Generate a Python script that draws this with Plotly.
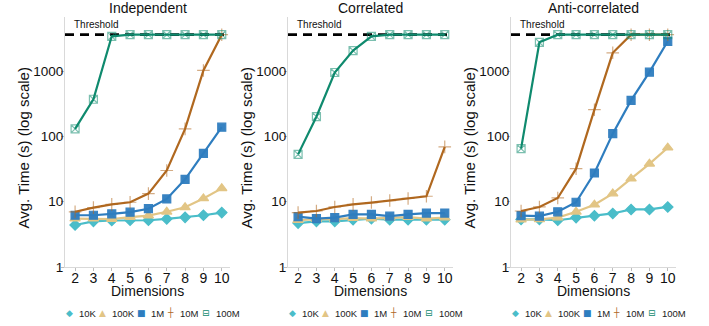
import plotly.graph_objects as go

# ---------------- data ----------------
DIMENSIONS = [2, 3, 4, 5, 6, 7, 8, 9, 10]
PANELS = ["Independent", "Correlated", "Anti-correlated"]
SERIES = ["10K", "100K", "1M", "10M", "100M"]
THRESHOLD = 3600
Y_TICKS = [1, 10, 100, 1000]

independent_10k = [4.4, 5.0, 5.15, 5.2, 5.2, 5.45, 5.75, 6.2, 6.8]
independent_100k = [5.5, 5.5, 5.4, 5.8, 6.1, 7.0, 8.2, 11.2, 16]
independent_1m = [6.2, 6.2, 6.5, 6.9, 7.8, 11, 22, 55, 138]
independent_10m = [7.0, 8.1, 9.1, 9.8, 13.3, 30, 130, 1020, 3600]
independent_100m = [130, 370, 3400, 3600, 3600, 3600, 3600, 3600, 3600]

correlated_10k = [4.7, 5.0, 5.0, 5.3, 5.5, 5.3, 5.3, 5.3, 5.3]
correlated_100k = [5.2, 5.4, 5.4, 5.6, 5.5, 5.7, 5.8, 5.5, 5.7]
correlated_1m = [5.9, 5.5, 5.7, 6.4, 6.4, 6.0, 6.4, 6.7, 6.7]
correlated_10m = [6.8, 7.2, 8.3, 9.1, 9.7, 10.4, 11.2, 12.1, 69]
correlated_100m = [53, 200, 950, 2050, 3400, 3600, 3600, 3600, 3600]

anti_10k = [5.35, 5.35, 5.2, 5.7, 6.1, 6.6, 7.6, 7.6, 8.3]
anti_100k = [5.3, 5.35, 5.7, 7.0, 9.0, 13.3, 22.5, 38, 67]
anti_1m = [6.1, 6.0, 7.0, 9.8, 27.5, 110, 355, 960, 2850]
anti_10m = [7.2, 8.3, 11.4, 32, 256, 1900, 3600, 3600, 3600]
anti_100m = [65, 2750, 3600, 3600, 3600, 3600, 3600, 3600, 3600]

PANEL_DATA = [
    [independent_10k, independent_100k, independent_1m, independent_10m, independent_100m],
    [correlated_10k, correlated_100k, correlated_1m, correlated_10m, correlated_100m],
    [anti_10k, anti_100k, anti_1m, anti_10m, anti_100m],
]

# ---------------- styles ----------------
COLORS = ["#4ABDC9", "#E2C585", "#2E7DBF", "#B0681F", "#0F8A6E"]
SYMBOLS = ["diamond", "triangle-up", "square", "cross-thin-open", "square-x-open"]
MSIZES = [8, 9, 8, 9, 8]
MOPAC = [1.0, 1.0, 0.95, 0.55, 0.55]
GLYPHS = ["◆", "▲", "■", "┼", "⊟"]
FONT = "Liberation Sans, Arial, sans-serif"

W, H = 709, 326
PLOT_LEFT = [65, 288, 511]
PLOT_W = 165
PLOT_TOP, PLOT_BOTTOM = 17, 267

fig = go.Figure()

for p in range(3):
    xa = "x" if p == 0 else f"x{p+1}"
    ya = "y" if p == 0 else f"y{p+1}"
    for s in range(5):
        fig.add_trace(go.Scatter(
            x=DIMENSIONS, y=PANEL_DATA[p][s], xaxis=xa, yaxis=ya,
            mode="lines+markers", name=SERIES[s], showlegend=False,
            line=dict(color=COLORS[s], width=2.2),
            marker=dict(symbol=SYMBOLS[s], size=MSIZES[s], color=COLORS[s],
                        opacity=MOPAC[s], line=dict(color=COLORS[s], width=1.2)),
        ))

layout = dict(
    width=W, height=H, margin=dict(l=0, r=0, t=0, b=0, autoexpand=False),
    paper_bgcolor="white", plot_bgcolor="white",
    font=dict(family=FONT, color="#111111"),
    showlegend=False,
)
ydom = [1 - PLOT_BOTTOM / H, 1 - PLOT_TOP / H]
annotations = []
shapes = []
for p in range(3):
    sfx = "" if p == 0 else str(p + 1)
    x0 = PLOT_LEFT[p] / W
    x1 = (PLOT_LEFT[p] + PLOT_W) / W
    layout["xaxis" + sfx] = dict(
        domain=[x0, x1], anchor="y" + sfx, range=[1.45, 10.45], automargin=False,
        tickmode="array", tickvals=DIMENSIONS, ticktext=[str(d) for d in DIMENSIONS],
        showgrid=False, zeroline=False, showline=True, linecolor="#D9D9D9", linewidth=1,
        ticks="outside", ticklen=3, tickcolor="#BDBDBD", ticklabelstandoff=-5,
        tickfont=dict(size=14, color="#111111"),
    )
    layout["yaxis" + sfx] = dict(
        domain=ydom, anchor="x" + sfx, type="log", range=[0, 3.827], automargin=False,
        tickmode="array", tickvals=Y_TICKS, ticktext=[str(t) for t in Y_TICKS],
        showgrid=False, zeroline=False, showline=True, linecolor="#D9D9D9", linewidth=1,
        ticks="outside", ticklen=3, tickcolor="#BDBDBD", ticklabelstandoff=-5,
        tickfont=dict(size=13.5, color="#111111"),
    )
    shapes.append(dict(
        type="line", xref="x" + sfx, yref="y" + sfx,
        x0=1.45, x1=10.45, y0=THRESHOLD, y1=THRESHOLD, layer="below",
        line=dict(color="black", width=2.8, dash="9px,6px"),
    ))
    # panel title
    annotations.append(dict(
        text=PANELS[p], xref="paper", yref="paper", x=(x0 + x1) / 2, y=1 - 8 / H,
        xanchor="center", yanchor="middle", showarrow=False,
        font=dict(size=14, color="#111111"),
    ))
    # threshold label
    annotations.append(dict(
        text="Threshold", xref="paper", yref="paper", x=(PLOT_LEFT[p] + 7) / W, y=1 - 24 / H,
        xanchor="left", yanchor="middle", showarrow=False,
        font=dict(size=10, color="#111111"),
    ))
    # y title
    annotations.append(dict(
        text="Avg. Time (s) (log scale)", xref="paper", yref="paper",
        x=(PLOT_LEFT[p] - 42.5) / W, y=1 - 148 / H, textangle=-90,
        xanchor="center", yanchor="middle", showarrow=False,
        font=dict(size=15, color="#111111"),
    ))
    # x title
    annotations.append(dict(
        text="Dimensions", xref="paper", yref="paper", x=(x0 + x1) / 2, y=1 - 291 / H,
        xanchor="center", yanchor="middle", showarrow=False,
        font=dict(size=14, color="#111111"),
    ))
    # legend
    glyph_off = [4, 37, 76, 105, 141]
    for s in range(5):
        annotations.append(dict(
            text=GLYPHS[s], xref="paper", yref="paper",
            x=(PLOT_LEFT[p] + glyph_off[s]) / W, y=1 - 313 / H, xanchor="center", yanchor="middle",
            showarrow=False, font=dict(size=9, color=COLORS[s], family="DejaVu Sans"),
        ))
        annotations.append(dict(
            text=SERIES[s], xref="paper", yref="paper",
            x=(PLOT_LEFT[p] + glyph_off[s] + 8) / W, y=1 - 313 / H, xanchor="left", yanchor="middle",
            showarrow=False, font=dict(size=9.5, color="#222222"),
        ))

layout["annotations"] = annotations
layout["shapes"] = shapes
fig.update_layout(**layout)
fig.write_html("out.html", config={"displayModeBar": False},
               post_script="document.body.style.margin='0';document.body.style.padding='0';")
